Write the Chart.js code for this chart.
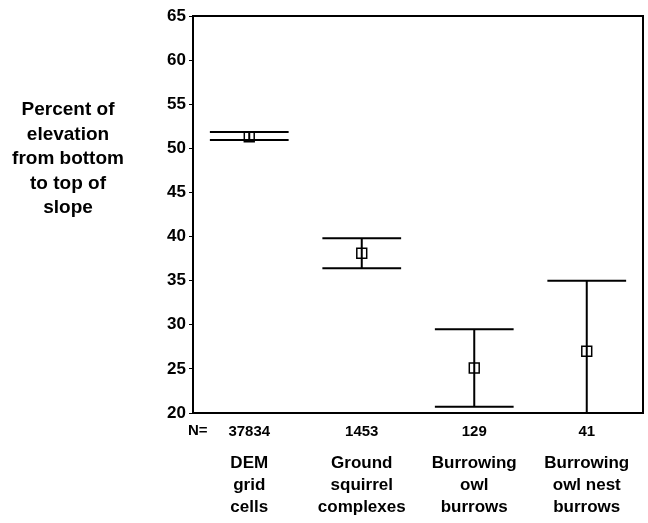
<!DOCTYPE html>
<html><head><meta charset="utf-8">
<script src="https://cdn.jsdelivr.net/npm/chart.js@4/dist/chart.umd.min.js"></script>
<style>html,body{margin:0;padding:0;background:#fff;overflow:hidden}canvas{display:block}</style>
</head><body><canvas id="c" width="648" height="523"></canvas>
<script>
const categories = [["DEM","grid","cells"],["Ground","squirrel","complexes"],["Burrowing","owl","burrows"],["Burrowing","owl nest","burrows"]];
const sampleSizes = ["37834","1453","129","41"];
const means = [51.3, 38.1, 25.1, 27.0];
const upperBounds = [51.85, 39.8, 29.5, 35.0];
const lowerBounds = [50.95, 36.4, 20.7, 19.0];
const yMin = 20, yMax = 65, yStep = 5;
const yTitleLines = ["Percent of","elevation","from bottom","to top of","slope"];
const nLabel = "N=";

const FONT = "'Liberation Sans', Arial, sans-serif";

const errorBars = {
  id: 'errorBars',
  afterDatasetsDraw(chart) {
    const {ctx, chartArea, scales} = chart;
    const xs = scales.x, ys = scales.y;
    ctx.save();
    ctx.beginPath();
    ctx.rect(chartArea.left, chartArea.top, chartArea.right - chartArea.left, chartArea.bottom - chartArea.top);
    ctx.clip();
    ctx.strokeStyle = '#000';
    ctx.lineWidth = 2;
    const half = xs.width / sampleSizes.length * 0.35;
    for (let i = 0; i < means.length; i++) {
      const x = xs.getPixelForValue(i);
      const yu = ys.getPixelForValue(upperBounds[i]);
      const yl = ys.getPixelForValue(lowerBounds[i]);
      ctx.beginPath();
      ctx.moveTo(x, yu); ctx.lineTo(x, yl);
      ctx.moveTo(x - half, yu); ctx.lineTo(x + half, yu);
      ctx.moveTo(x - half, yl); ctx.lineTo(x + half, yl);
      ctx.stroke();
    }
    ctx.restore();
  },
  afterDraw(chart) {
    const {ctx, chartArea} = chart;
    ctx.save();
    ctx.strokeStyle = '#000';
    ctx.lineWidth = 2;
    ctx.beginPath();
    ctx.moveTo(chartArea.left, chartArea.top);
    ctx.lineTo(chartArea.right, chartArea.top);
    ctx.lineTo(chartArea.right, chartArea.bottom);
    ctx.stroke();
    ctx.fillStyle = '#000';
    ctx.font = 'bold 19px ' + FONT;
    ctx.textAlign = 'center';
    ctx.textBaseline = 'middle';
    yTitleLines.forEach((t, i) => ctx.fillText(t, 68, 110 + i * 24.5));
    ctx.font = 'bold 15px ' + FONT;
    ctx.textAlign = 'left';
    ctx.fillText(nLabel, 188, chart.scales.x.top + 18);
    ctx.restore();
  }
};

new Chart(document.getElementById('c'), {
  type: 'line',
  data: {
    labels: sampleSizes,
    datasets: [{
      data: means,
      showLine: false,
      pointStyle: 'rect',
      pointRadius: 7,
      pointBorderWidth: 1.5,
      pointBorderColor: '#000',
      pointBackgroundColor: 'rgba(255,255,255,0)',
      xAxisID: 'x',
      yAxisID: 'y'
    }]
  },
  options: {
    responsive: false,
    animation: false,
    layout: { autoPadding: false, padding: { left: 148, right: 5, top: 16, bottom: 0 } },
    plugins: { legend: { display: false }, tooltip: { enabled: false } },
    scales: {
      y: {
        min: yMin, max: yMax,
        ticks: { stepSize: yStep, color: '#000', font: { family: FONT, size: 17, weight: 'bold' }, padding: 3 },
        grid: { display: true, drawOnChartArea: false, drawTicks: true, tickLength: 4, color: '#000' },
        border: { display: true, color: '#000', width: 2 },
        afterFit(s) { s.width = 45; }
      },
      x: {
        type: 'category',
        position: 'bottom',
        offset: true,
        weight: 0,
        ticks: { color: '#000', font: { family: FONT, size: 15, weight: 'bold' }, padding: 2, maxRotation: 0 },
        grid: { display: false, offset: true },
        border: { display: true, color: '#000', width: 2 },
        afterFit(s) { s.height = 30; }
      },
      x2: {
        type: 'category',
        position: 'bottom',
        offset: true,
        weight: 1,
        labels: categories,
        ticks: { color: '#000', font: { family: FONT, size: 17, weight: 'bold', lineHeight: 1.3 }, padding: 9, maxRotation: 0 },
        grid: { display: false, drawTicks: false, offset: true },
        border: { display: false },
        afterFit(s) { s.height = 80; }
      }
    }
  },
  plugins: [errorBars]
});
</script></body></html>
